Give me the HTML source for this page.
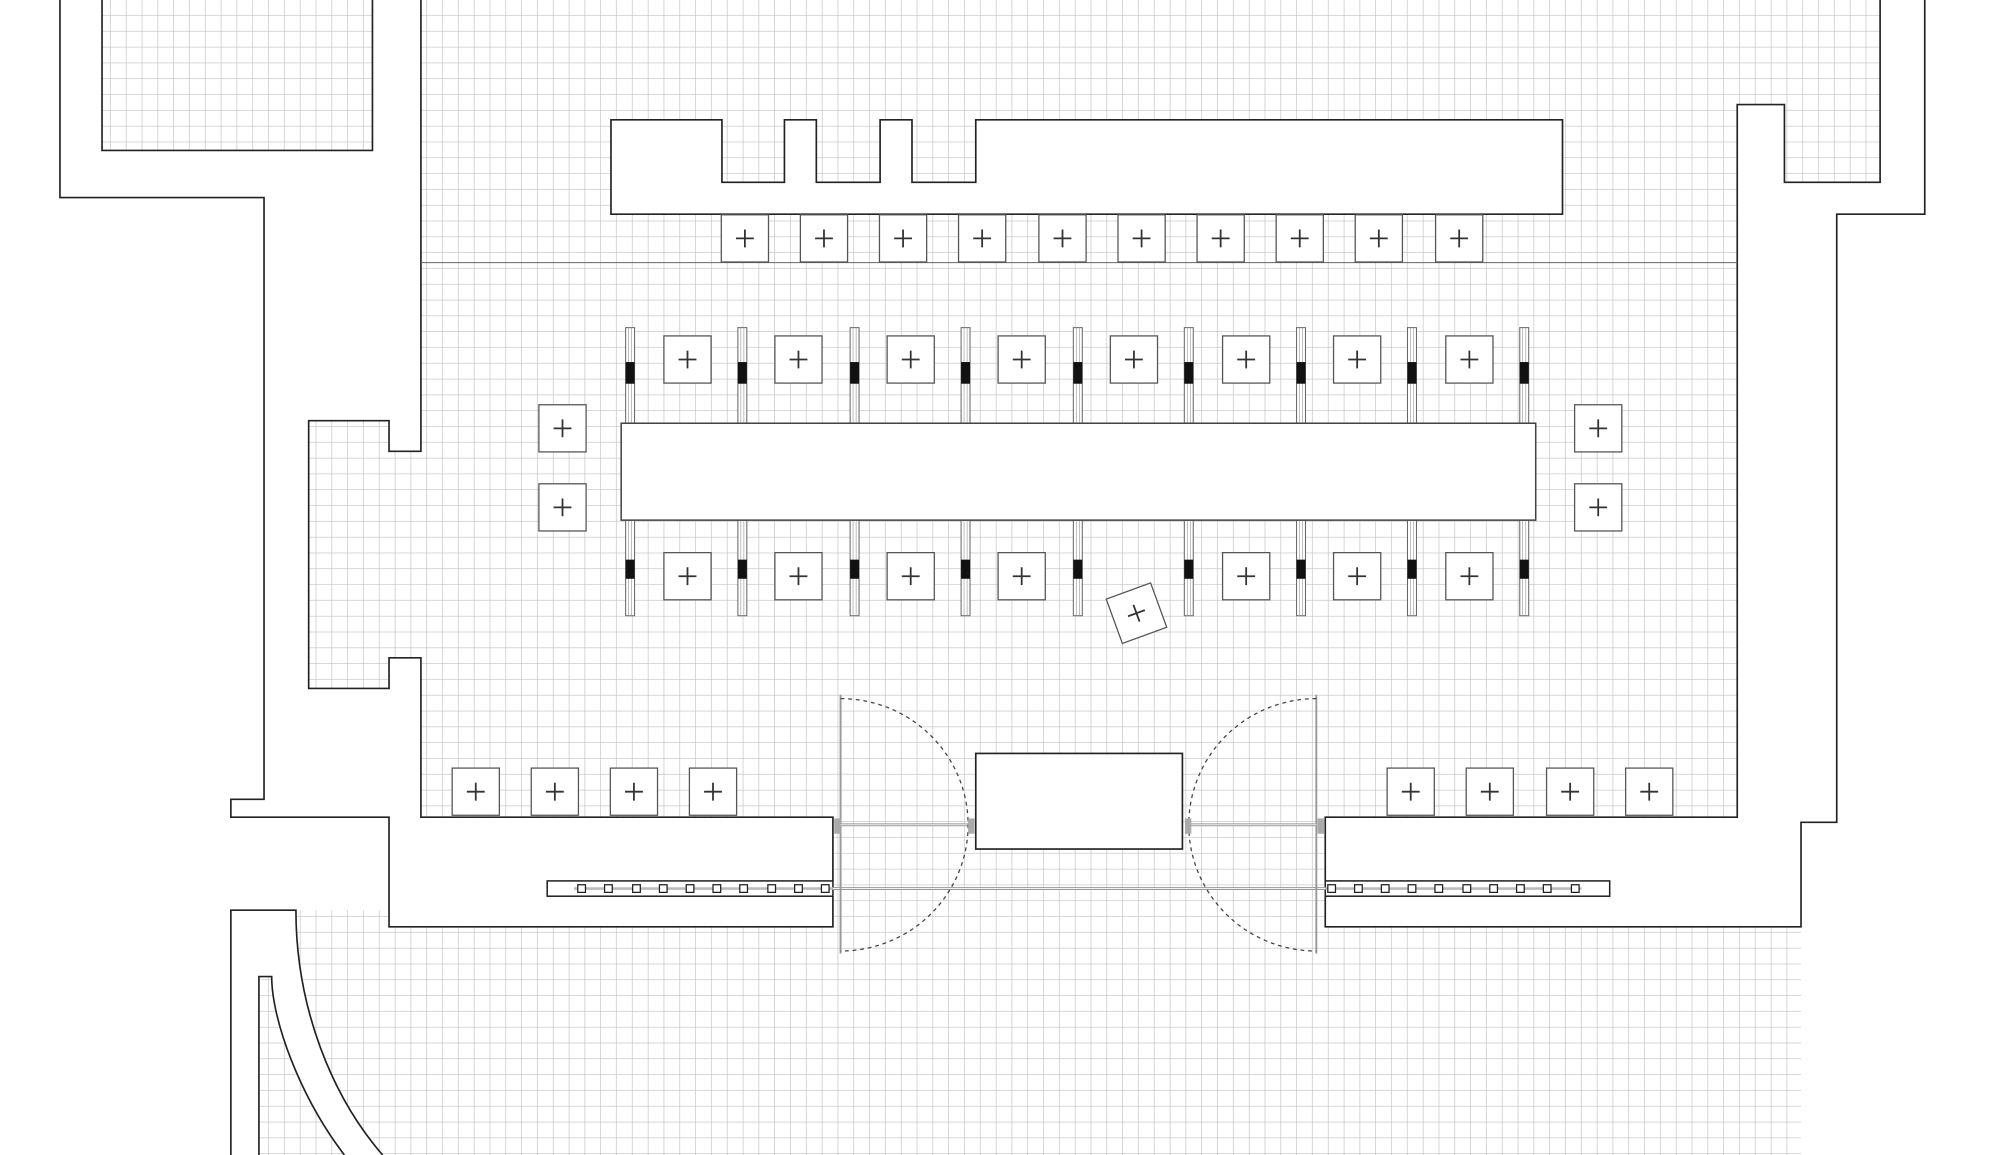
<!DOCTYPE html>
<html><head><meta charset="utf-8"><style>html,body{margin:0;padding:0;background:#fff}svg{display:block}</style></head>
<body>
<svg width="2000" height="1155" viewBox="0 0 1568 906" preserveAspectRatio="none" xmlns="http://www.w3.org/2000/svg">
<defs>
<pattern id="g" x="0" y="0" width="12.4" height="12.4" patternUnits="userSpaceOnUse">
<path d="M12.4 0V12.4M0 12.4H12.4" stroke="#c0c0c0" stroke-width="1" fill="none"/>
</pattern>
<g id="ch"><rect x="-18.5" y="-18.5" width="37" height="37" fill="#fff" stroke="#555" stroke-width="1"/><path d="M-7 0H7M0 -7V7" stroke="#333" stroke-width="1.4"/></g>
<g id="post"><rect x="-3.5" y="0" width="7" height="75" fill="#fff" stroke="#666" stroke-width="0.8"/><path d="M-1.2 0V75M1.2 0V75" stroke="#999" stroke-width="0.5"/></g>
</defs>
<rect width="1568" height="906" fill="url(#g)"/>
<path d="M0 0H80V118H292V0H330V354H305V330H242V540H305V516H330V641H653V727H305V714H232C232 790 260 860 300 906H0Z" fill="#fff"/>
<path d="M203 766H213C213 800 235 860 270 906H203Z" fill="url(#g)"/>
<path d="M1362 82H1399V143H1474V0H1568V906H1412V727H1039V641H1362Z" fill="#fff"/>
<g fill="none" stroke="#222" stroke-width="1.3">
<path d="M47 0V155H207V627H181V641H305V727H653V703"/>
<path d="M80 0V118H292V0"/>
<path d="M330 0V354H305V330H242V540H305V516H330V641H653V691"/>
<path d="M181 906V714H232C232 790 260 860 300 906"/>
<path d="M203 906V766H213C213 800 235 860 270 906"/>
<path d="M1509 0V168H1440V645H1412V727H1039V703"/>
<path d="M1474 0V143H1399V82H1362V641H1039V691"/>
</g>
<path d="M330 206H1362" stroke="#666" stroke-width="0.8"/>
<path d="M479 94H566V143H615V94H640V143H690V94H715V143H765V94H1225V168H479Z" fill="#fff" stroke="#222" stroke-width="1.3"/>
<g>
<use href="#ch" x="584" y="187"/><use href="#ch" x="646" y="187"/><use href="#ch" x="708" y="187"/><use href="#ch" x="770" y="187"/><use href="#ch" x="833" y="187"/><use href="#ch" x="895" y="187"/><use href="#ch" x="957" y="187"/><use href="#ch" x="1019" y="187"/><use href="#ch" x="1081" y="187"/><use href="#ch" x="1144" y="187"/>
</g>
<g>
<g transform="translate(0,257)"><use href="#post" x="494"/><use href="#post" x="582"/><use href="#post" x="670"/><use href="#post" x="757"/><use href="#post" x="845"/><use href="#post" x="932"/><use href="#post" x="1020"/><use href="#post" x="1107"/><use href="#post" x="1195"/></g>
<g transform="translate(0,408)"><use href="#post" x="494"/><use href="#post" x="582"/><use href="#post" x="670"/><use href="#post" x="757"/><use href="#post" x="845"/><use href="#post" x="932"/><use href="#post" x="1020"/><use href="#post" x="1107"/><use href="#post" x="1195"/></g>
<g fill="#111">
<rect x="490.5" y="284" width="7" height="17"/><rect x="578.5" y="284" width="7" height="17"/><rect x="666.5" y="284" width="7" height="17"/><rect x="753.5" y="284" width="7" height="17"/><rect x="841.5" y="284" width="7" height="17"/><rect x="928.5" y="284" width="7" height="17"/><rect x="1016.5" y="284" width="7" height="17"/><rect x="1103.5" y="284" width="7" height="17"/><rect x="1191.5" y="284" width="7" height="17"/>
<rect x="490.5" y="439" width="7" height="15"/><rect x="578.5" y="439" width="7" height="15"/><rect x="666.5" y="439" width="7" height="15"/><rect x="753.5" y="439" width="7" height="15"/><rect x="841.5" y="439" width="7" height="15"/><rect x="928.5" y="439" width="7" height="15"/><rect x="1016.5" y="439" width="7" height="15"/><rect x="1103.5" y="439" width="7" height="15"/><rect x="1191.5" y="439" width="7" height="15"/>
</g>
</g>
<rect x="487" y="332" width="717" height="76" fill="#fff" stroke="#444" stroke-width="1.2"/>
<g>
<use href="#ch" x="539" y="282"/><use href="#ch" x="626" y="282"/><use href="#ch" x="714" y="282"/><use href="#ch" x="801" y="282"/><use href="#ch" x="889" y="282"/><use href="#ch" x="977" y="282"/><use href="#ch" x="1064" y="282"/><use href="#ch" x="1152" y="282"/>
<use href="#ch" x="539" y="452"/><use href="#ch" x="626" y="452"/><use href="#ch" x="714" y="452"/><use href="#ch" x="801" y="452"/><use href="#ch" x="977" y="452"/><use href="#ch" x="1064" y="452"/><use href="#ch" x="1152" y="452"/>
<g transform="translate(891,481) rotate(-20)"><use href="#ch"/></g>
<use href="#ch" x="441" y="336"/><use href="#ch" x="441" y="398"/><use href="#ch" x="1253" y="336"/><use href="#ch" x="1253" y="398"/>
<use href="#ch" x="373" y="621"/><use href="#ch" x="435" y="621"/><use href="#ch" x="497" y="621"/><use href="#ch" x="559" y="621"/>
<use href="#ch" x="1106" y="621"/><use href="#ch" x="1168" y="621"/><use href="#ch" x="1231" y="621"/><use href="#ch" x="1293" y="621"/>
</g>
<rect x="429" y="691" width="224" height="12" fill="#fff" stroke="#222" stroke-width="1.2"/>
<rect x="1039" y="691" width="223" height="12" fill="#fff" stroke="#222" stroke-width="1.2"/>
<path d="M450 697H653M1039 697H1240" stroke="#bbb" stroke-width="2"/>
<g fill="#fff" stroke="#222" stroke-width="1">
<rect x="453" y="694" width="6" height="6"/><rect x="474" y="694" width="6" height="6"/><rect x="496" y="694" width="6" height="6"/><rect x="517" y="694" width="6" height="6"/><rect x="538" y="694" width="6" height="6"/><rect x="559" y="694" width="6" height="6"/><rect x="580" y="694" width="6" height="6"/><rect x="602" y="694" width="6" height="6"/><rect x="623" y="694" width="6" height="6"/><rect x="644" y="694" width="6" height="6"/>
<rect x="1041" y="694" width="6" height="6"/><rect x="1062" y="694" width="6" height="6"/><rect x="1083" y="694" width="6" height="6"/><rect x="1104" y="694" width="6" height="6"/><rect x="1125" y="694" width="6" height="6"/><rect x="1147" y="694" width="6" height="6"/><rect x="1168" y="694" width="6" height="6"/><rect x="1189" y="694" width="6" height="6"/><rect x="1210" y="694" width="6" height="6"/><rect x="1232" y="694" width="6" height="6"/>
</g>
<path d="M653 697H1039" stroke="#999" stroke-width="2.2"/>
<path d="M653 697H1039" stroke="#fff" stroke-width="0.6"/>
<path d="M659 545V748M1032 545V748" stroke="#999" stroke-width="1.5"/>
<path d="M659 647H762M930 647H1032" stroke="#999" stroke-width="2.2"/>
<path d="M659 647H762M930 647H1032" stroke="#fff" stroke-width="0.6"/>
<path d="M659 548A100 99 0 0 1 659 746" fill="none" stroke="#444" stroke-width="1" stroke-dasharray="3 3"/>
<path d="M1032 548A100 99 0 0 0 1032 746" fill="none" stroke="#444" stroke-width="1" stroke-dasharray="3 3"/>
<rect x="654" y="642" width="5" height="12" fill="#aaa"/>
<rect x="759" y="642" width="5" height="12" fill="#aaa"/>
<rect x="929" y="642" width="5" height="12" fill="#aaa"/>
<rect x="1033" y="642" width="5" height="12" fill="#aaa"/>
<rect x="765" y="591" width="162" height="75" fill="#fff" stroke="#222" stroke-width="1.3"/>
</svg>
</body></html>
